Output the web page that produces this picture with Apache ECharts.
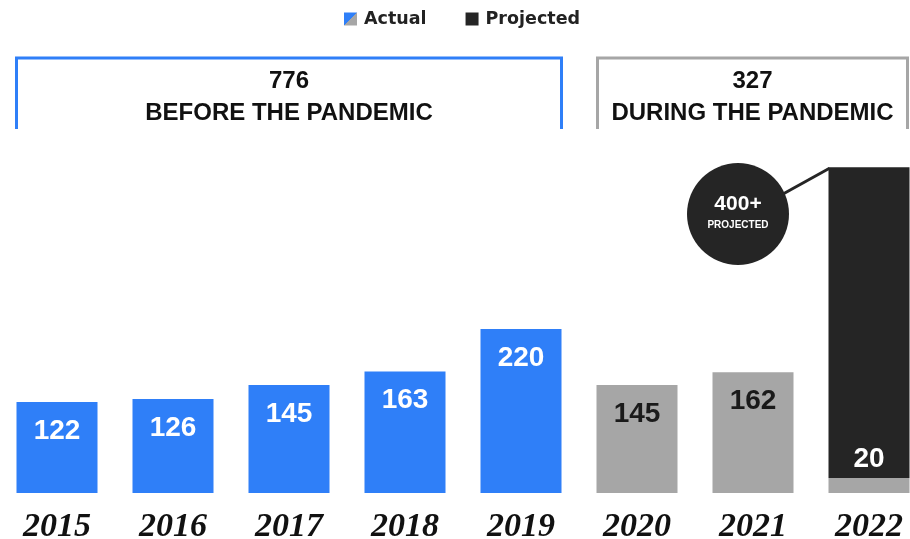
<!DOCTYPE html>
<html>
<head>
    <meta charset="UTF-8">
    <title>Pandemic chart</title>
    <script src="https://cdn.jsdelivr.net/npm/echarts@6/dist/echarts.min.js"></script>
</head>
<body style="margin:0;">
<div id="chart" style="width:910px; height:539px;"></div>
<script>
    var years = ['2015', '2016', '2017', '2018', '2019', '2020', '2021', '2022'];
    var actual = [122, 126, 145, 163, 220, 145, 162, 20];
    var projected = [null, null, null, null, null, null, null, 417];
    var beforeTotal = 776;
    var duringTotal = 327;

    var BLUE = '#2f7ff8';
    var GRAY = '#a6a6a6';
    var BLACK = '#252525';
    var SANS = 'Liberation Sans, Arial, sans-serif';

    var chart = echarts.init(document.getElementById('chart'), null, {renderer: 'canvas'});

    var actualData = actual.map(function (v, i) {
        var pre = i < 5;
        return {
            value: v,
            itemStyle: {color: pre ? BLUE : GRAY},
            label: {color: pre ? '#ffffff' : '#1a1a1a', show: i < 7}
        };
    });

    var option = {
        animation: false,
        legend: {
            top: 5,
            left: 339,
            itemWidth: 13,
            itemHeight: 13,
            itemGap: 39,
            textStyle: {fontFamily: 'DejaVu Sans, sans-serif', fontWeight: 'bold', fontSize: 17.5, color: '#222', padding: [0, 0, 0, 2]},
            data: [
                {
                    name: 'Actual', icon: 'rect',
                    itemStyle: {
                        color: {
                            type: 'linear', x: 0, y: 0, x2: 1, y2: 1,
                            colorStops: [{offset: 0.5, color: BLUE}, {offset: 0.5, color: GRAY}]
                        }
                    }
                },
                {name: 'Projected', icon: 'rect', itemStyle: {color: BLACK}}
            ]
        },
        grid: {left: -1, width: 928, top: 165, bottom: 46, outerBoundsMode: 'none', containLabel: false},
        xAxis: {
            type: 'category',
            data: years,
            axisLine: {show: false},
            axisTick: {show: false},
            axisLabel: {
                margin: 17,
                fontFamily: 'Liberation Serif, serif',
                fontStyle: 'italic',
                fontWeight: 'bold',
                fontSize: 34,
                color: '#111'
            }
        },
        yAxis: {type: 'value', min: 0, max: 440, show: false},
        series: [
            {
                name: 'Actual',
                type: 'bar',
                stack: 'total',
                barWidth: 81,
                data: actualData,
                label: {
                    show: true,
                    position: 'insideTop',
                    distance: 15,
                    fontFamily: SANS,
                    fontWeight: 'bold',
                    fontSize: 28
                }
            },
            {
                name: 'Projected',
                type: 'bar',
                stack: 'total',
                barWidth: 81,
                itemStyle: {color: BLACK},
                data: projected,
                label: {
                    show: true,
                    position: 'insideBottom',
                    distance: 5,
                    fontFamily: SANS,
                    fontWeight: 'bold',
                    fontSize: 28,
                    color: '#fff',
                    formatter: function (p) { return String(actual[p.dataIndex]); }
                }
            }
        ]
    };
    chart.setOption(option);

    // brackets and callout, placed from the category positions
    var half = 40.5;
    function cx(y) { return chart.convertToPixel({xAxisIndex: 0}, y); }
    var b1 = cx('2015') - half, b2 = cx('2019') + half;
    var g1 = cx('2020') - half + 1, g2 = cx('2022') + half - 2;
    var topY = 58, botY = 129;
    var lastTop = chart.convertToPixel({yAxisIndex: 0}, actual[7] + projected[7]);
    var circX = 738, circY = 214;
    var head = {fontFamily: SANS, fontWeight: 'bold', fontSize: 24, fill: '#111', align: 'center', verticalAlign: 'middle'};

    chart.setOption({
        graphic: [
            {type: 'polyline', shape: {points: [[b1, botY], [b1, topY], [b2, topY], [b2, botY]]},
                style: {stroke: BLUE, lineWidth: 3, fill: null}},
            {type: 'polyline', shape: {points: [[g1, botY], [g1, topY], [g2, topY], [g2, botY]]},
                style: {stroke: GRAY, lineWidth: 3, fill: null}},
            {type: 'text', x: (b1 + b2) / 2, y: 81, style: Object.assign({text: String(beforeTotal)}, head)},
            {type: 'text', x: (b1 + b2) / 2, y: 113, style: Object.assign({text: 'BEFORE THE PANDEMIC'}, head)},
            {type: 'text', x: (g1 + g2) / 2, y: 81, style: Object.assign({text: String(duringTotal)}, head)},
            {type: 'text', x: (g1 + g2) / 2, y: 113, style: Object.assign({text: 'DURING THE PANDEMIC'}, head)},
            {type: 'line', shape: {x1: circX + 45, y1: circY - 20, x2: cx('2022') - half + 1, y2: lastTop + 1},
                style: {stroke: BLACK, lineWidth: 3}},
            {type: 'circle', shape: {cx: circX, cy: circY, r: 51}, style: {fill: BLACK}},
            {type: 'text', x: circX, y: circY - 10,
                style: {text: '400+', fontFamily: SANS, fontWeight: 'bold', fontSize: 21, fill: '#fff', align: 'center', verticalAlign: 'middle'}},
            {type: 'text', x: circX, y: circY + 11,
                style: {text: 'PROJECTED', fontFamily: SANS, fontWeight: 'bold', fontSize: 10, fill: '#fff', align: 'center', verticalAlign: 'middle'}}
        ]
    });
</script>
</body>
</html>
